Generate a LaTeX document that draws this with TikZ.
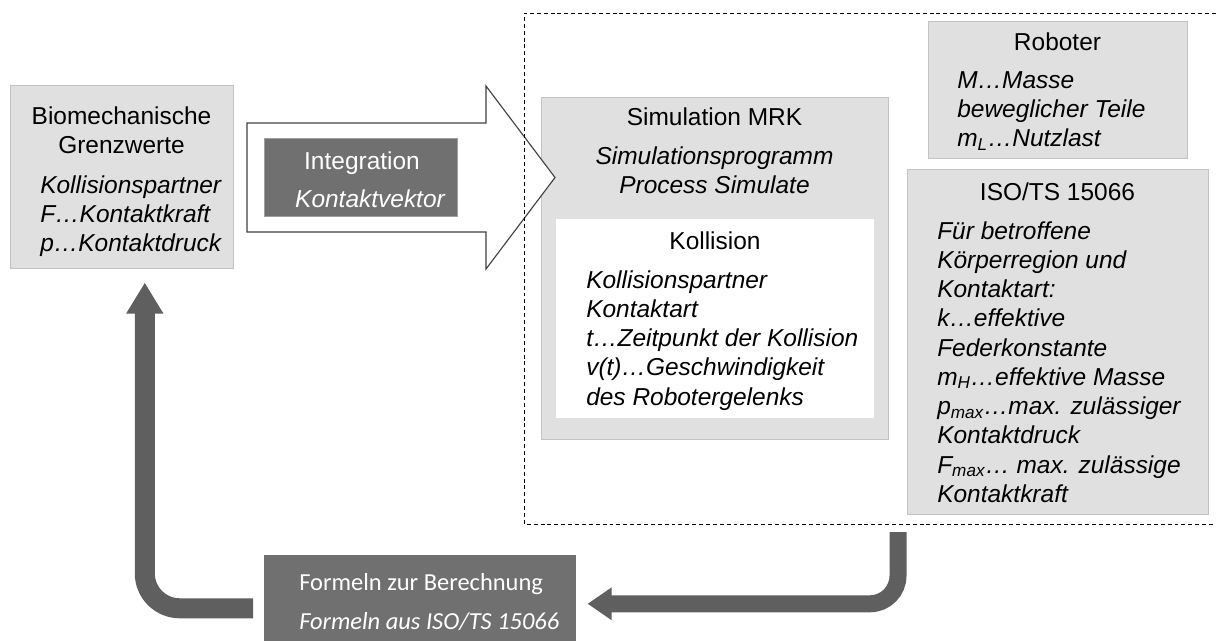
\documentclass[tikz,border=0pt]{standalone}
\usepackage{fontspec}
\setmainfont{Liberation Sans}
\newfontfamily\calibrifont{Carlito}
\usepackage{xcolor}
\definecolor{boxgray}{RGB}{224,224,224}
\definecolor{edgegray}{RGB}{195,195,195}
\definecolor{darkfill}{RGB}{112,112,112}
\definecolor{arrowgray}{RGB}{95,95,95}
\definecolor{arrowedge}{RGB}{64,64,64}
\usetikzlibrary{arrows.meta,positioning,calc}
\newcommand{\pxu}{0.025cm}

\begin{document}
\begin{tikzpicture}[x=0.025cm, y=-0.025cm,
    every node/.style={font=\fontsize{17.4}{20.8}\selectfont},
    greybox/.style={rectangle, draw=edgegray, fill=boxgray, inner sep=0pt,
                    anchor=north west},
    darkbox/.style={rectangle, fill=darkfill, inner sep=0pt, anchor=north west},
    whitebox/.style={rectangle, fill=white, inner sep=0pt, anchor=north west},
    title/.style={inner sep=0pt, anchor=north, align=center},
    body/.style={inner sep=0pt, anchor=north west, align=left,
                 font=\fontsize{17.4}{20.8}\selectfont\itshape},
    fatarrow/.style={draw=arrowgray, line cap=butt},
    frameline/.style={draw=black, line width=0.7pt, dash pattern=on 2.8pt off 2.1pt},
  ]
    \useasboundingbox (0,0) rectangle (1216,641);

    \node[greybox, minimum width=223*\pxu, minimum height=183*\pxu] (bio) at (10,85) {};
    \node[title] (biot) at (121.5,106) {Biomechanische\\Grenzwerte};
    \node[body] (bioi) at (40,175) {Kollisionspartner\\F…Kontaktkraft\\p…Kontaktdruck};

    \node[greybox, minimum width=347*\pxu, minimum height=342*\pxu] (sim) at (541,97) {};
    \node[title] (simt) at (714.5,107) {Simulation MRK};
    \node[title, font=\fontsize{17.4}{20.8}\selectfont\itshape] (simi) at (714.5,146)
      {Simulationsprogramm\\Process Simulate};

    \node[whitebox, minimum width=318*\pxu, minimum height=199*\pxu] (koll) at (556,219) {};
    \node[title] (kollt) at (715,231) {Kollision};
    \node[body] (kolli) at (586,270) {Kollisionspartner\\Kontaktart\\t…Zeitpunkt der Kollision\\v(t)…Geschwindigkeit\\des Robotergelenks};

    \draw[draw=arrowedge, fill=white, line width=0.8pt]
      (247,123) -- (486,123) -- (486,86) -- (555,177.5) -- (486,269) -- (486,232) -- (247,232) -- cycle;

    \node[darkbox, draw=gray!75, minimum width=193*\pxu, minimum height=78*\pxu] (integ) at (264,138) {};
    \node[title, text=white] (integt) at (362,151)
      {Integration\\[0.22cm]\hspace*{0.4cm}{\itshape Kontaktvektor}};

    \node[greybox, minimum width=259*\pxu, minimum height=137*\pxu] (robo) at (928,21) {};
    \node[title] (robot) at (1057.5,32) {Roboter};
    \node[body] (roboi) at (957,71) {M…Masse\\beweglicher Teile\\m\textsubscript{L}…Nutzlast};

    \node[greybox, minimum width=301*\pxu, minimum height=345*\pxu] (iso) at (907,169) {};
    \node[title] (isot) at (1057.5,182) {ISO/TS 15066};
    \node[body] (isoi) at (937,221) {Für betroffene\\Körperregion und\\Kontaktart:\\k…effektive\\Federkonstante\\m\textsubscript{H}…effektive Masse\\p\textsubscript{max}…max. zulässiger\\Kontaktdruck\\F\textsubscript{max}… max. zulässige\\Kontaktkraft};

    \draw[frameline] (1216,13) -| (524,524) -- (1216,524);

    \node[darkbox, minimum width=312*\pxu, minimum height=86*\pxu] (formeln) at (264,555) {};
    \node[body, text=white, font=\fontsize{17.4}{20.8}\calibrifont] (formt) at (299,573)
      {Formeln zur Berechnung\\[0.24cm]{\itshape Formeln aus ISO/TS 15066}};

    \coordinate (simout) at (898,532);
    \draw[fatarrow, line width=0.425cm, rounded corners=0.7cm,
          -{Triangle[width=0.775cm, length=0.6cm]}]
      (simout) |- ($(formeln.east)+(11,5.5)$);
    \draw[fatarrow, line width=0.5cm, rounded corners=0.875cm,
          -{Triangle[width=0.875cm, length=0.775cm]}]
      ($(formeln.west)+(-11,10)$) -| ($(bio.south)+(23,14)$);
  \end{tikzpicture}
\end{document}
